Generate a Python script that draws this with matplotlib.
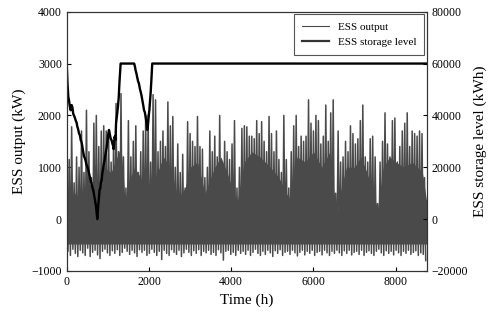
import numpy as np
import matplotlib
matplotlib.use('Agg')
import matplotlib.pyplot as plt

plt.rcParams['font.family'] = ['Liberation Serif', 'DejaVu Serif']

# ESS output: peak and trough per 60 h block
step_h = 60
out_hi = [900, 1150, 1780, 700, 1200, 1000, 1700, 900, 2100, 1300, 800, 1850,
          2000, 1400, 1700, 1800, 1700, 1600, 1100, 1500, 2230, 1300, 2420, 1200,
          600, 1900, 1200, 1500, 1800, 900, 1300, 1700, 2000, 2000, 1100, 2400,
          2300,
          1300, 1500, 1700, 1400, 2260, 1800, 1980, 1000, 1450, 900, 1250, 600,
          1880, 1650, 1500, 1400, 1980, 1400, 1350, 800, 1000, 1700, 1300, 1600,
          1200, 2000, 1100, 1500, 1300, 1150, 1450, 1900, 600, 1000, 1750, 1800,
          1780, 1600, 1600, 1550, 1900, 1650, 1880, 1500, 1300, 1980, 1650, 1300,
          1700, 1150, 900, 2000, 1150, 600, 1300, 1800, 2000, 1400, 1600, 1500,
          1600, 2300, 1850, 1700, 2000, 1900, 1450, 1600, 2200, 1500, 2050, 2300,
          500,
          1700, 1100, 1200, 1500, 1300, 1800, 1650, 1450, 1550, 1900, 2200, 1200,
          1100, 1550, 1600, 1200, 300, 1100, 1500, 2050, 1450, 1200, 1900, 1950,
          1100, 1400, 1700, 1850, 2050, 1400, 1700, 1650, 1600, 1700, 1650, 800]
out_lo = [-620, -700, -580, -660, -720, -600, -650, -700, -560, -720, -640, -600,
          -690, -760, -620, -580, -650, -700, -610, -660, -590, -700, -640, -560,
          -620, -680, -600, -650, -720, -590, -640, -600, -700, -660, -580, -640,
          -700,
          -620, -780, -600, -660, -700, -590, -640, -680, -600, -720, -650, -580,
          -640, -700, -610, -660, -590, -700, -620, -650, -600, -680, -640, -700,
          -590, -650, -790, -620, -600, -680, -640, -700, -600, -660, -620, -680,
          -600, -700, -640, -580, -660, -700, -620, -680, -600, -650, -720, -610,
          -660, -590, -700, -640, -620, -680, -600, -650, -710, -640, -600, -690,
          -620, -660, -600, -700, -640, -620, -690, -600, -650, -700, -620, -660,
          -600,
          -650, -700, -610, -660, -600, -690, -640, -620, -680, -600, -700, -640,
          -610, -660, -700, -620, -580, -650, -700, -610, -660, -620, -690, -600,
          -650, -700, -620, -660, -600, -680, -640, -610, -700, -650, -680, -800]

# top of the solid dark band of ESS output
band_t = [0, 200, 360, 540, 720, 900, 1080, 1320, 1440, 1500, 1650, 1800,
          2040, 2160, 2350, 2520, 2700, 2880, 3000, 3180, 3360, 3600, 3750,
          3900, 4140, 4320, 4500, 4700, 4950, 5160, 5400, 5600, 5800, 6000,
          6200, 6400, 6560, 6650, 6800, 7000, 7150, 7300, 7560, 7700, 7850,
          8000, 8200, 8400, 8650, 8760]
band_top = [200, 500, 300, 700, 500, 1000, 900, 1400, 100, 700, 1000, 800,
            300, 800, 1200, 1000, 400, 600, 1000, 1100, 500, 1000, 1200,
            900, 300, 1100, 1300, 1200, 1000, 800, 400, 1200, 1100, 1300,
            1000, 1300, 0, 500, 1000, 1000, 1200, 900, 200, 1000, 1200,
            1100, 1000, 1100, 900, 300]
band_floor = -480

# ESS storage level (kWh)
store_t = [0, 20, 40, 55, 75, 96, 120, 140, 160, 177, 200, 220, 240, 258, 280,
           300, 320, 340, 360, 380, 400, 420, 440, 460, 480, 500, 530, 560,
           590, 620, 650, 680, 710, 744, 770, 785, 800, 815, 830, 850, 866,
           885, 900, 920, 946, 970, 990, 1010, 1028, 1050, 1070, 1090, 1108,
           1125, 1140, 1165, 1185, 1200, 1225, 1246, 1265, 1280, 1311, 1640,
           1660, 1675, 1695, 1710, 1735, 1756, 1780, 1800, 1820, 1837, 1860,
           1880, 1900, 1918, 1940, 1959, 1975, 1985, 2000, 2010, 2025, 2040,
           2060, 2080, 8760]
store_v = [60000, 52000, 47000, 45900, 43500, 42000, 44000, 43000, 40500,
           40000, 39000, 38000, 37200, 35700, 34500, 33000, 32400, 30500,
           29800, 28000, 26000, 24200, 23600, 22500, 21000, 20300, 18600,
           16500, 14600, 12600, 10800, 8000, 5200, 0, 6000, 8400, 11400,
           11800, 14000, 15200, 17800, 19400, 21000, 22600, 25400, 27500,
           30000, 32800, 34400, 32600, 31000, 30500, 29300, 28400, 27000,
           31800, 30600, 37000, 40400, 43400, 47000, 52000, 60000, 60000,
           58800, 57400, 56200, 55000, 53200, 52300, 50200, 49000, 47600,
           46000, 44000, 42000, 41200, 39500, 37000, 34400, 36200, 38000,
           40800, 42000, 45400, 48500, 54000, 60000, 60000]

# interleave peaks and troughs so the series reads as a dense hourly trace
hi_t = np.arange(len(out_hi)) * step_h
lo_t = hi_t + step_h / 2
out_t = np.empty(2 * len(out_hi))
out_v = np.empty(2 * len(out_hi))
out_t[0::2], out_t[1::2] = hi_t, lo_t
out_v[0::2], out_v[1::2] = out_hi, out_lo

gray = '#4a4a4a'
fig = plt.figure(figsize=(4.92, 3.22), dpi=100)
ax = fig.add_axes([0.1356, 0.1584, 0.7322, 0.8053])
ax.fill_between(band_t, band_floor, band_top, color=gray, lw=0)
l1, = ax.plot(out_t, out_v, color=gray, lw=1.1, label='ESS output')
ax.set_xlim(0, 8760)
ax.set_ylim(-1000, 4000)
ax.set_xticks(range(0, 8001, 2000))
ax.set_yticks(range(-1000, 4001, 1000))
ax.set_xlabel('Time (h)', fontsize=11)
ax.set_ylabel('ESS output (kW)', fontsize=11)

ax2 = ax.twinx()
l2, = ax2.plot(store_t, store_v, color='black', lw=1.7, label='ESS storage level')
ax2.set_ylim(-20000, 80000)
ax2.set_yticks(range(-20000, 80001, 20000))
ax2.set_ylabel('ESS storage level (kWh)', fontsize=11)

for a in (ax, ax2):
    a.tick_params(direction='in', length=3, labelsize=8.5, width=0.8)
    for s in a.spines.values():
        s.set_linewidth(0.8)
        s.set_color('#333333')

leg_l1 = plt.Line2D([], [], color=gray, lw=0.8)
leg_l2 = plt.Line2D([], [], color='#333333', lw=1.6)
leg = ax2.legend([leg_l1, leg_l2], ['ESS output', 'ESS storage level'],
                 loc='upper right', fontsize=8, fancybox=False,
                 edgecolor='#555555', framealpha=1, borderaxespad=0,
                 bbox_to_anchor=(0.992, 0.99), borderpad=0.7, handlelength=2.4)
leg.get_frame().set_linewidth(0.8)

fig.savefig('out.png', dpi=100)
